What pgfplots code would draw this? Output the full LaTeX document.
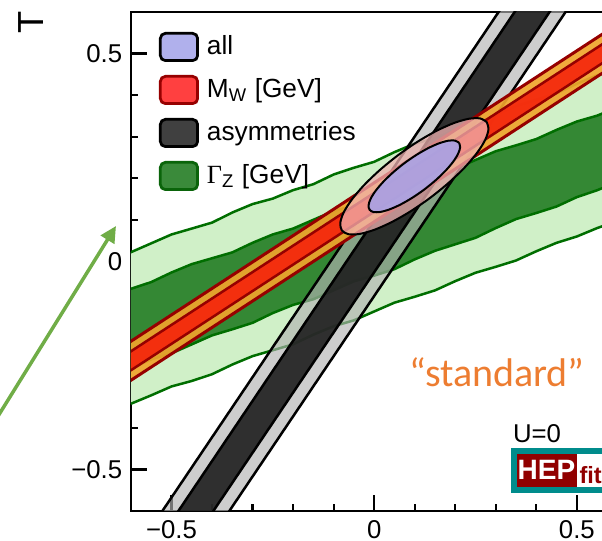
\documentclass[border=0pt]{standalone}
\usepackage{fontspec}
\setmainfont{Liberation Sans}
\newfontfamily\serifgreek{Liberation Serif}
\newfontfamily\calibri{Carlito}
\usepackage{pgfplots}
\pgfplotsset{compat=1.18}
\usetikzlibrary{arrows.meta}

\definecolor{lgreen}{RGB}{208,240,200}
\definecolor{dgreen}{RGB}{52,136,52}
\definecolor{gedge}{RGB}{0,110,0}
\definecolor{asymgrey}{RGB}{178,178,178}
\definecolor{asymdark}{RGB}{30,30,30}
\definecolor{mwred}{RGB}{245,38,12}
\definecolor{mworange}{RGB}{240,165,45}
\definecolor{mwedge}{RGB}{150,0,0}
\definecolor{allpink}{RGB}{240,178,178}
\definecolor{allblue}{RGB}{170,162,228}
\definecolor{legblue}{RGB}{176,176,236}
\definecolor{legred}{RGB}{255,64,64}
\definecolor{leggrey}{RGB}{64,64,64}
\definecolor{leggreen}{RGB}{58,138,58}
\definecolor{legedgegreen}{RGB}{10,100,10}
\definecolor{stdorange}{RGB}{237,125,49}
\definecolor{arrowgreen}{RGB}{112,173,71}
\definecolor{hepteal}{RGB}{0,140,140}
\definecolor{hepred}{RGB}{145,0,0}

\begin{document}
\begin{tikzpicture}
\begin{axis}[
  at={(0pt,0pt)}, anchor=south west,
  scale only axis, width=194.56pt, height=199.6pt,
  xmin=-0.6, xmax=0.6, ymin=-0.6, ymax=0.6,
  xtick={-0.5,0,0.5}, ytick={-0.5,0,0.5},
  xticklabels={−0.5,0,0.5}, yticklabels={−0.5,0,0.5},
  minor x tick num=4, minor y tick num=4,
  xtick pos=bottom, ytick pos=left,
  tick align=inside,
  major tick length=6.3pt, minor tick length=2.9pt,
  tick style={black, line width=0.9pt},
  axis line style={line width=1.1pt},
  tick label style={font=\fontsize{10.3}{12}\selectfont},
  xticklabel style={yshift=-0.3pt},
  legend style={
    at={(0,1)}, anchor=north west,
    xshift=11.2pt, yshift=-8pt,
    draw=none, fill=none, inner sep=0pt, outer sep=0pt,
    row sep=5.2pt, column sep=3.2pt,
    font=\fontsize{10.5}{12}\selectfont,
    nodes={inner sep=0pt, outer sep=0pt},
  },
  legend cell align=left,
]
% legend swatches
\addlegendimage{legend image code/.code={\draw[fill=legblue,draw=black,line width=1.1pt,rounded corners=2pt] (0.55pt,-5.45pt) rectangle (15.45pt,5.45pt);}}
\addlegendentry{all}
\addlegendimage{legend image code/.code={\draw[fill=legred,draw=mwedge,line width=1.1pt,rounded corners=2pt] (0.55pt,-5.45pt) rectangle (15.45pt,5.45pt);}}
\addlegendentry{M\textsubscript{W} [GeV]}
\addlegendimage{legend image code/.code={\draw[fill=leggrey,draw=black,line width=1.1pt,rounded corners=2pt] (0.55pt,-5.45pt) rectangle (15.45pt,5.45pt);}}
\addlegendentry{asymmetries}
\addlegendimage{legend image code/.code={\draw[fill=leggreen,draw=legedgegreen,line width=1.1pt,rounded corners=2pt] (0.55pt,-5.45pt) rectangle (15.45pt,5.45pt);}}
\addlegendentry{{\serifgreek Γ}\textsubscript{Z} [GeV]}

% Gamma_Z: 95% region
\addplot[forget plot, fill=lgreen, draw=gedge, line width=1pt] coordinates {
(-0.65,0.0041) (-0.60,0.0224) (-0.55,0.0437) (-0.50,0.0650) (-0.45,0.0792) (-0.40,0.0935) (-0.35,0.1178) (-0.30,0.1381) (-0.25,0.1513) (-0.20,0.1716) (-0.15,0.1859) (-0.10,0.2092) (-0.05,0.2254) (0.00,0.2397) (0.05,0.2630) (0.10,0.2833) (0.15,0.2965) (0.20,0.3168) (0.25,0.3301) (0.30,0.3534) (0.35,0.3736) (0.40,0.3889) (0.45,0.4042) (0.50,0.4275) (0.55,0.4477) (0.60,0.4620) (0.65,0.4793)
(0.65,0.1138) (0.60,0.0976) (0.55,0.0803) (0.50,0.0601) (0.45,0.0449) (0.40,0.0246) (0.35,0.0024) (0.30,-0.0128) (0.25,-0.0271) (0.20,-0.0473) (0.15,-0.0695) (0.10,-0.0848) (0.05,-0.0990) (0.00,-0.1202) (-0.05,-0.1415) (-0.10,-0.1557) (-0.15,-0.1759) (-0.20,-0.1992) (-0.25,-0.2134) (-0.30,-0.2276) (-0.35,-0.2478) (-0.40,-0.2711) (-0.45,-0.2873) (-0.50,-0.3005) (-0.55,-0.3218) (-0.60,-0.3420) (-0.65,-0.3602)
} -- cycle;
% Gamma_Z: 68% region
\addplot[forget plot, fill=dgreen, draw=gedge, line width=1pt] coordinates {
(-0.65,-0.0837) (-0.60,-0.0656) (-0.55,-0.0495) (-0.50,-0.0264) (-0.45,-0.0063) (-0.40,0.0078) (-0.35,0.0219) (-0.30,0.0450) (-0.25,0.0651) (-0.20,0.0792) (-0.15,0.1003) (-0.10,0.1214) (-0.05,0.1345) (0.00,0.1496) (0.05,0.1727) (0.10,0.1888) (0.15,0.2099) (0.20,0.2230) (0.25,0.2441) (0.30,0.2652) (0.35,0.2793) (0.40,0.2944) (0.45,0.3165) (0.50,0.3366) (0.55,0.3507) (0.60,0.3708) (0.65,0.3869)
(0.65,0.2075) (0.60,0.1909) (0.55,0.1713) (0.50,0.1548) (0.45,0.1322) (0.40,0.1166) (0.35,0.1020) (0.30,0.0804) (0.25,0.0569) (0.20,0.0413) (0.15,0.0257) (0.10,0.0051) (0.05,-0.0185) (0.00,-0.0340) (-0.05,-0.0476) (-0.10,-0.0692) (-0.15,-0.0908) (-0.20,-0.1044) (-0.25,-0.1239) (-0.30,-0.1475) (-0.35,-0.1631) (-0.40,-0.1777) (-0.45,-0.1993) (-0.50,-0.2208) (-0.55,-0.2354) (-0.60,-0.2570) (-0.65,-0.2756)
} -- cycle;

% asymmetries: 95% and 68%
\addplot[forget plot, fill=asymgrey, fill opacity=0.65, draw=black, line width=1pt] coordinates {
(-0.5917,-0.7) (0.3761,0.7) (0.5413,0.7) (-0.4265,-0.7)} -- cycle;
\addplot[forget plot, fill=asymdark, fill opacity=0.9, draw=black, line width=1pt] coordinates {
(-0.5522,-0.7) (0.4156,0.7) (0.5018,0.7) (-0.4660,-0.7)} -- cycle;

% M_W: 95% and 68%
\addplot[forget plot, fill=mworange, fill opacity=0.92, draw=mwedge, line width=1.2pt] coordinates {
(-0.7,-0.3491) (0.7,0.5399) (0.7,0.6337) (-0.7,-0.2553)} -- cycle;
\addplot[forget plot, fill=mwred, fill opacity=0.92, draw=mwedge, line width=1.0pt] coordinates {
(-0.7,-0.3250) (0.7,0.5640) (0.7,0.6096) (-0.7,-0.2794)} -- cycle;

% all: 95% and 68%
\addplot[forget plot, smooth, fill=allpink, fill opacity=0.75, draw=black, line width=0.8pt] coordinates {
(0.2778,0.3351) (0.2819,0.3174) (0.2736,0.2919) (0.2533,0.2606) (0.2226,0.2254) (0.1834,0.1889) (0.1385,0.1534) (0.0909,0.1214) (0.0439,0.0951) (0.0006,0.0763) (-0.0359,0.0663) (-0.0633,0.0656) (-0.0796,0.0745) (-0.0837,0.0922) (-0.0754,0.1177) (-0.0551,0.1490) (-0.0244,0.1842) (0.0148,0.2207) (0.0597,0.2562) (0.1073,0.2882) (0.1543,0.3145) (0.1976,0.3333) (0.2341,0.3433) (0.2615,0.3440) (0.2778,0.3351)};
\addplot[forget plot, smooth, fill=allblue, fill opacity=0.92, draw=black, line width=0.8pt] coordinates {
(0.2095,0.2853) (0.2121,0.2744) (0.2069,0.2587) (0.1944,0.2393) (0.1754,0.2176) (0.1512,0.1950) (0.1235,0.1730) (0.0941,0.1533) (0.0650,0.1370) (0.0382,0.1254) (0.0157,0.1192) (-0.0013,0.1188) (-0.0113,0.1243) (-0.0139,0.1352) (-0.0087,0.1510) (0.0038,0.1703) (0.0228,0.1920) (0.0470,0.2146) (0.0747,0.2366) (0.1041,0.2563) (0.1332,0.2726) (0.1600,0.2842) (0.1826,0.2904) (0.1995,0.2908) (0.2095,0.2853)};
\end{axis}

% axis title T
\node[rotate=90, anchor=center, inner sep=0pt, font=\fontsize{14.5}{16}\selectfont] at (-40pt,195.6pt) {T};

% annotations
\node[anchor=base, inner sep=0pt, text=stdorange, font=\calibri\fontsize{16}{18}\selectfont] at (146.4pt,49.6pt) {“standard”};
\node[anchor=base, inner sep=0pt, font=\fontsize{10.3}{12}\selectfont] at (162.4pt,27.2pt) {U=0};

% logo
\draw[line width=2.2pt, draw=hepteal] (153.1pt,8.3pt) rectangle (215pt,24pt);
\fill[hepred] (154.2pt,9.4pt) rectangle (178.3pt,22.9pt);
\node[anchor=base, inner sep=0pt, text=white, font=\bfseries\fontsize{11.2}{12}\selectfont] at (166.2pt,12.4pt) {HEP};
\node[anchor=base west, inner sep=0pt, text=hepred, font=\bfseries\fontsize{9.4}{10}\selectfont] at (179.2pt,10.8pt) {fit};

% arrow
\draw[line width=1.4pt, arrowgreen, -{Triangle[length=6.5pt, width=6.2pt]}] (-54.7pt,35.5pt) -- (-6pt,114pt);

\pgfresetboundingbox
\useasboundingbox (-52.4pt,-12pt) rectangle (188.4pt,204.4pt);
\end{tikzpicture}
\end{document}
